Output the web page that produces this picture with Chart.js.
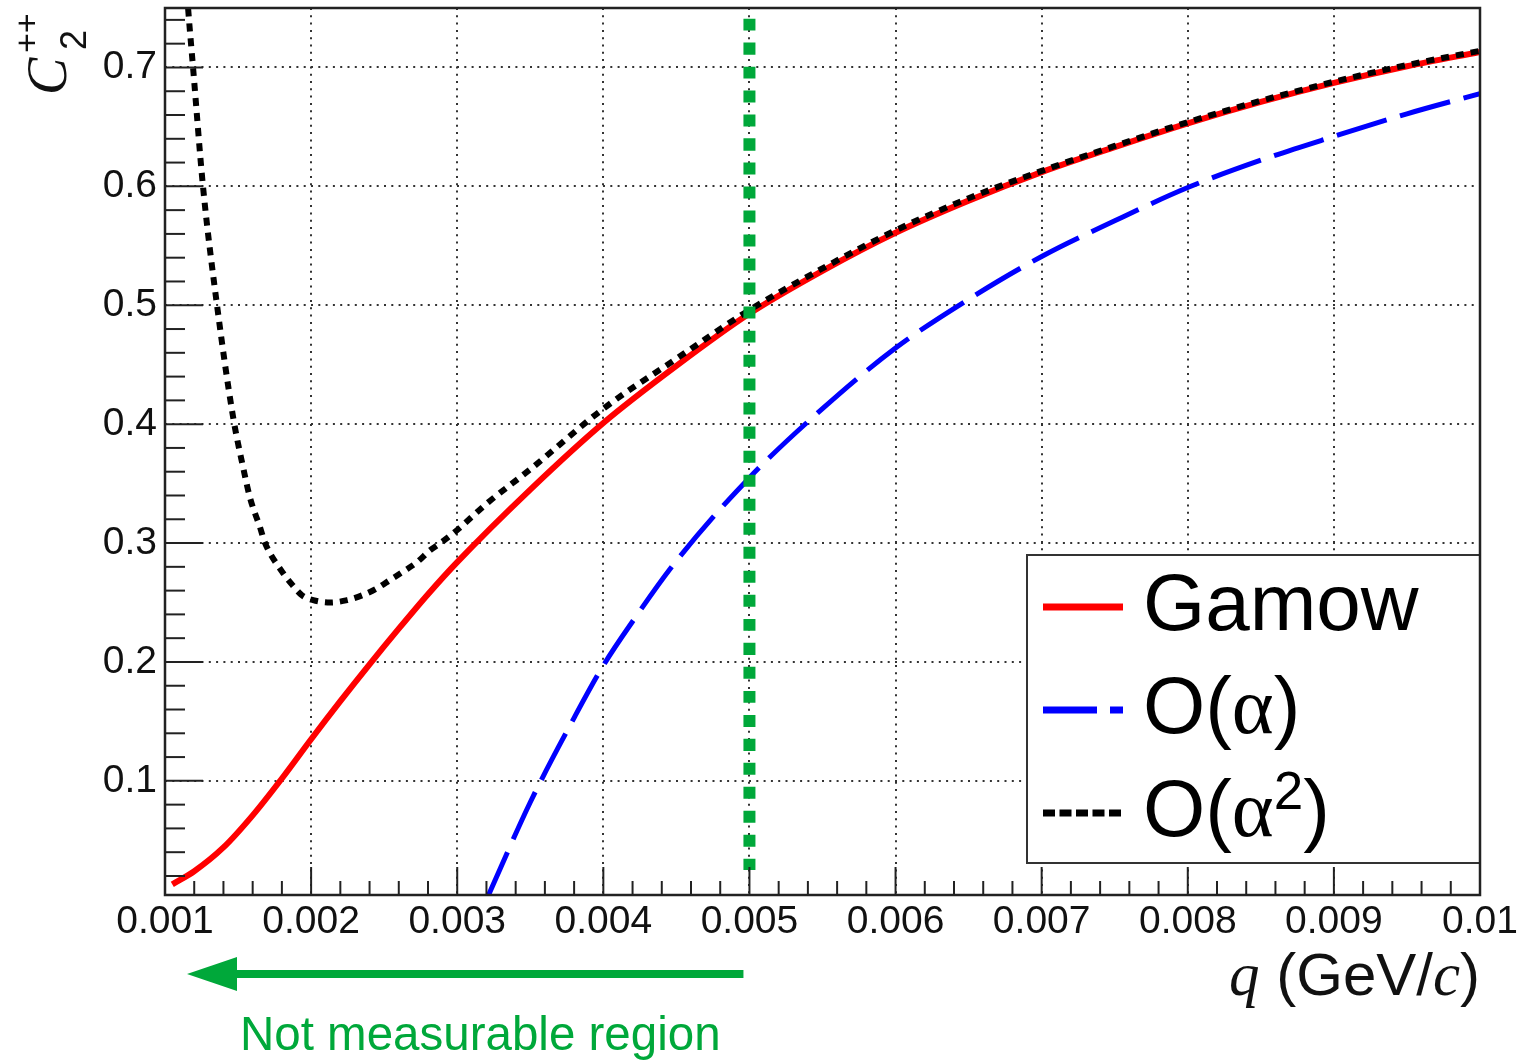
<!DOCTYPE html>
<html>
<head>
<meta charset="utf-8">
<script src="https://cdn.jsdelivr.net/npm/chart.js@4.4.1/dist/chart.umd.min.js"></script>
<style>
  html, body { margin: 0; padding: 0; background: #fff; }
  #wrap { width: 1525px; height: 1060px; }
</style>
</head>
<body>
<div id="wrap"><canvas id="c" width="1525" height="1060"></canvas></div>
<script>
// ── Data ──────────────────────────────────────────────────────────────────────

const xTicks = [0.001, 0.002, 0.003, 0.004, 0.005, 0.006, 0.007, 0.008, 0.009, 0.01];
const yTicks = [0.1, 0.2, 0.3, 0.4, 0.5, 0.6, 0.7];

// Gamow (full Coulomb)
const gamowQ  = [0.00105, 0.0012, 0.0014, 0.0016, 0.0018, 0.002, 0.0022, 0.0024, 0.0026, 0.0028,
                 0.003, 0.0035, 0.004, 0.0045, 0.005, 0.0055, 0.006, 0.0065, 0.007, 0.0075,
                 0.008, 0.0085, 0.009, 0.0095, 0.01];
const gamowC2 = [0.013, 0.024, 0.044, 0.071, 0.102, 0.135, 0.167, 0.198, 0.228, 0.257,
                 0.284, 0.345, 0.401, 0.449, 0.493, 0.529, 0.561, 0.588, 0.612, 0.633,
                 0.653, 0.671, 0.687, 0.701, 0.713];

// O(alpha)
const alphaQ  = [0.0032, 0.0035, 0.0038, 0.004, 0.0042, 0.0045, 0.005, 0.0055, 0.006, 0.0065,
                 0.007, 0.0075, 0.008, 0.0085, 0.009, 0.0095, 0.01];
const alphaC2 = [0.000, 0.082, 0.153, 0.197, 0.234, 0.285, 0.355, 0.413, 0.464, 0.505,
                 0.541, 0.571, 0.599, 0.622, 0.642, 0.661, 0.678];

// O(alpha^2)
const alpha2Q  = [0.00113, 0.001158, 0.001192, 0.00126, 0.001356, 0.001466, 0.001534, 0.001582,
                  0.001651, 0.001685, 0.001801, 0.00187, 0.001938, 0.002014, 0.00213, 0.002247,
                  0.002349, 0.002452, 0.002541, 0.00263, 0.002726, 0.002815, 0.002897, 0.003,
                  0.0032, 0.0035, 0.004, 0.0045, 0.005, 0.0055, 0.006, 0.0065, 0.007, 0.0075,
                  0.008, 0.0085, 0.009, 0.0095, 0.01];
const alpha2C2 = [0.80, 0.75, 0.70, 0.60, 0.50, 0.406, 0.364, 0.338,
                  0.313, 0.300, 0.276, 0.265, 0.256, 0.252, 0.250, 0.252,
                  0.256, 0.262, 0.269, 0.276, 0.284, 0.294, 0.301, 0.311,
                  0.333, 0.362, 0.413, 0.455, 0.496, 0.531, 0.563, 0.590, 0.613, 0.634,
                  0.654, 0.672, 0.688, 0.702, 0.714];

// measurability cut
const cutQ  = [0.005, 0.005];
const cutC2 = [0.741, 0.025];

const X_MIN = 0.001, X_MAX = 0.01;
const Y_MIN = 0.004, Y_MAX = 0.75;

// ── Styles ────────────────────────────────────────────────────────────────────

const GREEN = '#00a83a';
const INK   = '#111';
const SANS  = '"Liberation Sans", Arial, sans-serif';
const SERIF = '"Liberation Serif", "Times New Roman", serif';

const toXY = (xs, ys) => xs.map((x, i) => ({ x, y: ys[i] }));

// ── Helpers ───────────────────────────────────────────────────────────────────

function runsWidth(ctx, runs) {
  let w = 0;
  runs.forEach(r => { ctx.font = r.font; w += ctx.measureText(r.t).width; });
  return w;
}

function drawRuns(ctx, x, y, runs) {
  runs.forEach(r => {
    ctx.font = r.font;
    ctx.fillText(r.t, x, y + (r.dy || 0));
    x += ctx.measureText(r.t).width;
  });
}

// ── Plugin: ROOT-like frame, ticks, legend, titles, annotation ────────────────

const rootDecor = {
  id: 'rootDecor',
  afterDatasetsDraw(chart) {
    const { ctx, chartArea: ca } = chart;
    const items = [
      { name: [{ t: 'Gamow', font: `80px ${SANS}` }], ds: chart.data.datasets[3], dash: [] },
      { name: [{ t: 'O(', font: `80px ${SANS}` }, { t: 'α', font: `80px ${SERIF}` },
               { t: ')', font: `80px ${SANS}` }], ds: chart.data.datasets[2], dash: [54, 13] },
      { name: [{ t: 'O(', font: `80px ${SANS}` }, { t: 'α', font: `80px ${SERIF}` },
               { t: '2', font: `53px ${SANS}`, dy: -27 }, { t: ')', font: `80px ${SANS}` }],
        ds: chart.data.datasets[1], dash: [12, 4.5] },
    ];
    const bw = 453, bh = 308;
    const bx = ca.right - bw, by = ca.bottom - 340;
    ctx.save();
    ctx.fillStyle = '#fff';
    ctx.fillRect(bx, by, bw, bh);
    ctx.strokeStyle = '#333';
    ctx.lineWidth = 2;
    ctx.strokeRect(bx, by, bw, bh);
    items.forEach((it, i) => {
      const yc = by + 52 + i * 103;
      ctx.beginPath();
      ctx.setLineDash(it.dash);
      ctx.lineCap = 'butt';
      ctx.strokeStyle = it.ds.borderColor;
      ctx.lineWidth = 7;
      ctx.moveTo(bx + 16, yc);
      ctx.lineTo(bx + 96, yc);
      ctx.stroke();
      ctx.setLineDash([]);
      ctx.fillStyle = '#000';
      ctx.textBaseline = 'alphabetic';
      ctx.textAlign = 'left';
      drawRuns(ctx, bx + 116, yc + 23, it.name);
    });
    ctx.restore();
  },
  afterDraw(chart) {
    const { ctx, chartArea: ca, scales: { x: xs, y: ys } } = chart;
    ctx.save();
    ctx.strokeStyle = '#222';
    ctx.lineWidth = 2;
    ctx.setLineDash([]);

    // x ticks (inside, 4 minor per major)
    for (let i = 0; i <= 45; i++) {
      const px = xs.getPixelForValue(X_MIN + i * 0.0002);
      const len = i % 5 === 0 ? 28 : 14;
      ctx.beginPath();
      ctx.moveTo(px, ca.bottom);
      ctx.lineTo(px, ca.bottom - len);
      ctx.stroke();
    }
    // y ticks (inside, 4 minor per major)
    for (let i = 1; i <= 37; i++) {
      const v = i * 0.02;
      if (v < Y_MIN || v > Y_MAX) continue;
      const py = ys.getPixelForValue(v);
      const len = i % 5 === 0 ? 38 : 20;
      ctx.beginPath();
      ctx.moveTo(ca.left, py);
      ctx.lineTo(ca.left + len, py);
      ctx.stroke();
    }
    // frame
    ctx.lineWidth = 2.5;
    ctx.strokeRect(ca.left, ca.top, ca.right - ca.left, ca.bottom - ca.top);

    // x title: q (GeV/c)
    ctx.fillStyle = INK;
    ctx.textBaseline = 'alphabetic';
    ctx.textAlign = 'left';
    const xt = [
      { t: 'q', font: `italic 61px ${SERIF}` },
      { t: ' (GeV/', font: `60px ${SANS}` },
      { t: 'c', font: `italic 61px ${SERIF}` },
      { t: ')', font: `60px ${SANS}` },
    ];
    drawRuns(ctx, ca.right - runsWidth(ctx, xt), ca.bottom + 100, xt);

    // y title: C_2^{++}
    ctx.save();
    ctx.translate(ca.left - 99, ca.top + 87);
    ctx.rotate(-Math.PI / 2);
    ctx.font = `italic 56px ${SERIF}`;
    ctx.fillText('C', 0, 0);
    ctx.font = `36px ${SANS}`;
    ctx.fillText('2', 45, 20);
    ctx.font = `34px ${SANS}`;
    ctx.fillText('++', 42, -28);
    ctx.restore();

    // green arrow + label
    const yA = ca.bottom + 79;
    const xR = xs.getPixelForValue(0.005) - 6;
    const xTip = ca.left + 22;
    ctx.fillStyle = GREEN;
    ctx.fillRect(xTip + 48, yA - 4, xR - (xTip + 48), 8);
    ctx.beginPath();
    ctx.moveTo(xTip, yA);
    ctx.lineTo(xTip + 50, yA - 17);
    ctx.lineTo(xTip + 50, yA + 17);
    ctx.closePath();
    ctx.fill();
    ctx.font = `47.5px ${SANS}`;
    ctx.fillText('Not measurable region', ca.left + 75, ca.bottom + 155);

    ctx.restore();
  },
};

// ── Chart ─────────────────────────────────────────────────────────────────────

const lineBase = { pointRadius: 0, fill: false, cubicInterpolationMode: 'monotone', clip: 0 };

new Chart(document.getElementById('c'), {
  type: 'line',
  data: {
    datasets: [
      { ...lineBase, label: 'cut', data: toXY(cutQ, cutC2), borderColor: GREEN,
        borderWidth: 12, borderDash: [12, 12], order: 0 },
      { ...lineBase, label: 'O(α²)', data: toXY(alpha2Q, alpha2C2), borderColor: '#000',
        borderWidth: 6, borderDash: [8, 7], order: 1 },
      { ...lineBase, label: 'O(α)', data: toXY(alphaQ, alphaC2), borderColor: '#0000ff',
        borderWidth: 5, borderDash: [52, 14], order: 2 },
      { ...lineBase, label: 'Gamow', data: toXY(gamowQ, gamowC2), borderColor: '#ff0000',
        borderWidth: 6, order: 3 },
    ],
  },
  options: {
    responsive: false,
    animation: false,
    layout: { padding: { top: 8, right: 45, left: 0, bottom: 0 } },
    plugins: { legend: { display: false }, tooltip: { enabled: false } },
    scales: {
      x: {
        type: 'linear',
        min: X_MIN,
        max: X_MAX,
        afterBuildTicks: s => { s.ticks = xTicks.map(v => ({ value: v })); },
        afterFit: s => { s.height = 165; },
        ticks: {
          autoSkip: false,
          maxRotation: 0,
          padding: 4,
          color: INK,
          font: { family: SANS, size: 39 },
          callback: v => String(+v.toFixed(3)),
        },
        grid: { color: '#333', lineWidth: 2, drawTicks: false },
        border: { display: false, dash: [2, 5.3] },
      },
      y: {
        type: 'linear',
        min: Y_MIN,
        max: Y_MAX,
        afterBuildTicks: s => { s.ticks = yTicks.map(v => ({ value: v })); },
        afterFit: s => { s.width = 165; },
        ticks: {
          padding: 0,
          color: INK,
          font: { family: SANS, size: 39, lineHeight: 0.3 },
          callback: v => String(+v.toFixed(1)),
        },
        grid: { color: '#333', lineWidth: 2, drawTicks: true, tickLength: 8, tickColor: 'rgba(0,0,0,0)' },
        border: { display: false, dash: [2, 5.3] },
      },
    },
  },
  plugins: [rootDecor],
});
</script>
</body>
</html>
